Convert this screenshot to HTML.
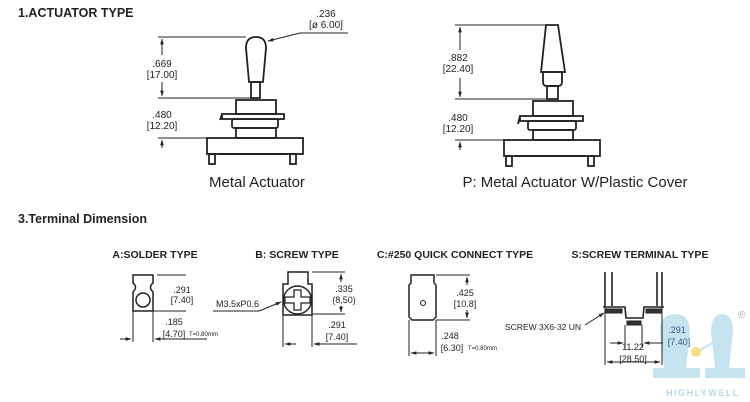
<!DOCTYPE html>
<html><head><meta charset="utf-8"><style>
body{margin:0;background:#fff}
svg{display:block}
text{font-family:"Liberation Sans",Arial,sans-serif;fill:#222}
.d{font-size:10px}
.h{font-weight:bold}
</style></head><body>
<svg width="750" height="402" viewBox="0 0 750 402" xmlns="http://www.w3.org/2000/svg">
<defs>
<marker id="a" viewBox="0 0 10 10" refX="9" refY="5" markerWidth="6" markerHeight="6" orient="auto-start-reverse"><path d="M0,2 L10,5 L0,8z" fill="#222"/></marker>
</defs>
<text x="18" y="17" class="h" font-size="12.5">1.ACTUATOR TYPE</text>
<text x="18" y="223" class="h" font-size="12.5">3.Terminal Dimension</text>

<!-- logo watermark -->
<g fill="#c6e3f0">
<path d="M660,332 Q660,314 675,314 Q690,314 690,332 L686,368 L700,368 L700,378 L653,378 L653,368 L664,368 Z"/>
<path d="M711,332 Q711,314 722,314 Q733,314 733,332 L729,368 L745,368 L745,378 L705,378 L705,368 L715,368 Z"/>
</g>
<line x1="696" y1="352" x2="718" y2="340" stroke="#c6e3f0" stroke-width="2"/>
<circle cx="696" cy="352" r="5" fill="#f7e08a"/>
<text x="703" y="396" font-size="9" font-weight="bold" text-anchor="middle" letter-spacing="1.5" style="fill:#b8d8e6">HIGHLYWELL</text>
<text x="738" y="318" font-size="10" style="fill:#aaa">®</text>

<g stroke="#222" fill="none" stroke-width="1">
<!-- left actuator -->
<line x1="158" y1="37" x2="246" y2="37"/>
<line x1="158" y1="98" x2="250" y2="98"/>
<line x1="162" y1="55" x2="162" y2="39" marker-end="url(#a)"/>
<line x1="162" y1="82" x2="162" y2="96" marker-end="url(#a)"/>
<line x1="158" y1="138" x2="210" y2="138"/>
<line x1="162" y1="148" x2="162" y2="140" marker-end="url(#a)"/>
<g stroke-width="1.8">
<path d="M246,48 Q246,37 256,37 Q266,37 266,48 L263,82 L249,82 Z"/>
<rect x="251" y="82" width="9" height="16"/>
<rect x="236" y="100" width="40" height="14"/>
<rect x="222" y="114" width="62" height="5"/>
<path d="M222,114 L220,120"/>
<rect x="232" y="119" width="46" height="9" rx="2"/>
<rect x="236" y="128" width="40" height="10"/>
<rect x="207" y="138" width="96" height="16"/>
<rect x="209" y="154" width="6" height="10"/>
<rect x="290" y="154" width="6" height="10"/>
</g>
<line x1="218" y1="154" x2="287" y2="154" stroke-width="2"/>
<line x1="300" y1="33" x2="348" y2="33"/>
<line x1="300" y1="33" x2="268" y2="41" marker-end="url(#a)"/>
<!-- right actuator -->
<line x1="455" y1="25" x2="546" y2="25"/>
<line x1="455" y1="99" x2="546" y2="99"/>
<line x1="460" y1="50" x2="460" y2="27" marker-end="url(#a)"/>
<line x1="460" y1="78" x2="460" y2="97" marker-end="url(#a)"/>
<line x1="455" y1="140" x2="510" y2="140"/>
<line x1="460" y1="150" x2="460" y2="142" marker-end="url(#a)"/>
<g stroke-width="1.8">
<path d="M546,25 L558,25 L565,72 L541,72 Z"/>
<path d="M543,72 L562,72 L562,82 Q562,86 558,86 L547,86 Q543,86 543,82 Z"/>
<rect x="547" y="86" width="11" height="13"/>
<rect x="533" y="101" width="40" height="15"/>
<rect x="520" y="116" width="63" height="5"/>
<path d="M520,116 L518,124"/>
<rect x="528" y="121" width="48" height="9" rx="2"/>
<rect x="533" y="130" width="40" height="10"/>
<rect x="504" y="140" width="96" height="16"/>
<rect x="506" y="156" width="6" height="10"/>
<rect x="588" y="156" width="6" height="10"/>
</g>
<line x1="515" y1="156" x2="585" y2="156" stroke-width="2"/>

<!-- solder -->
<path d="M133,275 L153,275 L153,283 Q148,287 153,292 L153,311 L133,311 L133,292 Q138,287 133,283 Z" stroke-width="1.5"/>
<circle cx="143" cy="300" r="7" stroke-width="1.5"/>
<line x1="157" y1="275" x2="186" y2="275"/>
<line x1="153" y1="311" x2="186" y2="311"/>
<line x1="133" y1="311" x2="133" y2="342"/>
<line x1="153" y1="311" x2="153" y2="342"/>
<line x1="120" y1="339" x2="131" y2="339" marker-end="url(#a)"/>
<line x1="207" y1="339" x2="155" y2="339" marker-end="url(#a)"/>
<!-- screw -->
<path d="M288,272 L308,272 L308,284 L312,284 L312,315 L283,315 L283,284 L288,284 Z" stroke-width="1.5"/>
<circle cx="297.5" cy="300" r="14" stroke-width="1.5"/>
<path d="M285,297 L294,297 L294,290 L301,290 L301,297 L310,297 L310,303 L301,303 L301,310 L294,310 L294,303 L285,303 Z" stroke-width="1.3"/>
<line x1="312" y1="272" x2="345" y2="272"/>
<line x1="312" y1="314" x2="345" y2="314"/>
<line x1="341" y1="282" x2="341" y2="274" marker-end="url(#a)"/>
<line x1="341" y1="306" x2="341" y2="312" marker-end="url(#a)"/>
<line x1="283" y1="315" x2="283" y2="347"/>
<line x1="312" y1="315" x2="312" y2="347"/>
<line x1="296" y1="344" x2="285" y2="344" marker-end="url(#a)"/>
<line x1="357" y1="344" x2="314" y2="344" marker-end="url(#a)"/>
<line x1="213" y1="311" x2="259" y2="311"/>
<line x1="259" y1="311" x2="281" y2="302" marker-end="url(#a)"/>
<!-- quick connect -->
<path d="M411,275 L434,275 L434,283 L436,285 L436,317 L433,320 L412,320 L409,317 L409,285 L411,283 Z" stroke-width="1.5"/>
<circle cx="423" cy="303" r="2.5" stroke-width="1.1"/>
<line x1="436" y1="275" x2="470" y2="275"/>
<line x1="436" y1="320" x2="470" y2="320"/>
<line x1="467" y1="285" x2="467" y2="277" marker-end="url(#a)"/>
<line x1="467" y1="310" x2="467" y2="318" marker-end="url(#a)"/>
<line x1="409" y1="320" x2="409" y2="356"/>
<line x1="436" y1="320" x2="436" y2="356"/>
<line x1="422" y1="353" x2="411" y2="353" marker-end="url(#a)"/>
<line x1="422" y1="353" x2="434" y2="353" marker-end="url(#a)"/>
<!-- screw terminal -->
<g stroke-width="1.6">
<line x1="605" y1="272" x2="605" y2="306"/><line x1="612" y1="272" x2="612" y2="306"/>
<line x1="657" y1="272" x2="657" y2="306"/><line x1="662" y1="272" x2="662" y2="306"/>
<path d="M603,307 L625,307 L626,318 L643,318 L644,307 L664,307"/>
</g>
<rect x="606" y="309" width="16" height="4" fill="#333"/>
<rect x="646" y="309" width="16" height="4" fill="#333"/>
<rect x="627" y="321" width="14" height="4" fill="#333"/>
<line x1="605" y1="306" x2="605" y2="365"/>
<line x1="662" y1="306" x2="662" y2="365"/>
<line x1="625" y1="325" x2="625" y2="348"/>
<line x1="642" y1="325" x2="642" y2="348"/>
<line x1="610" y1="343" x2="623" y2="343" marker-end="url(#a)"/>
<line x1="663" y1="343" x2="644" y2="343" marker-end="url(#a)"/>
<line x1="633" y1="362" x2="607" y2="362" marker-end="url(#a)"/>
<line x1="633" y1="362" x2="660" y2="362" marker-end="url(#a)"/>
<line x1="585" y1="325" x2="604" y2="313" marker-end="url(#a)"/>
</g>

<!-- text -->
<text x="326" y="17" class="d" text-anchor="middle">.236</text>
<text x="326" y="28" class="d" text-anchor="middle">[ø 6.00]</text>
<text x="162" y="67" class="d" text-anchor="middle">.669</text>
<text x="162" y="78" class="d" text-anchor="middle">[17.00]</text>
<text x="162" y="118" class="d" text-anchor="middle">.480</text>
<text x="162" y="129" class="d" text-anchor="middle">[12.20]</text>
<text x="257" y="187" font-size="15" text-anchor="middle">Metal Actuator</text>
<text x="458" y="61" class="d" text-anchor="middle">.882</text>
<text x="458" y="72" class="d" text-anchor="middle">[22.40]</text>
<text x="458" y="121" class="d" text-anchor="middle">.480</text>
<text x="458" y="132" class="d" text-anchor="middle">[12.20]</text>
<text x="575" y="187" font-size="15" text-anchor="middle">P: Metal Actuator  W/Plastic Cover</text>

<text x="155" y="258" class="h" font-size="10.5" text-anchor="middle">A:SOLDER TYPE</text>
<text x="297" y="258" class="h" font-size="10.5" text-anchor="middle">B: SCREW TYPE</text>
<text x="455" y="258" class="h" font-size="10.5" text-anchor="middle">C:#250 QUICK CONNECT TYPE</text>
<text x="640" y="258" class="h" font-size="10.5" text-anchor="middle">S:SCREW TERMINAL TYPE</text>

<text x="182" y="293" font-size="9" text-anchor="middle">.291</text>
<text x="182" y="303" font-size="9" text-anchor="middle">[7.40]</text>
<text x="174" y="325" font-size="9" text-anchor="middle">.185</text>
<text x="174" y="337" font-size="9" text-anchor="middle">[4.70]</text>
<text x="189" y="336" font-size="6">T=0.80mm</text>
<text x="216" y="307" font-size="9">M3.5xP0.6</text>
<text x="344" y="292" font-size="9" text-anchor="middle">.335</text>
<text x="344" y="303" font-size="9" text-anchor="middle">(8,50)</text>
<text x="337" y="328" font-size="9" text-anchor="middle">.291</text>
<text x="337" y="340" font-size="9" text-anchor="middle">[7.40]</text>
<text x="465" y="296" font-size="9" text-anchor="middle">.425</text>
<text x="465" y="307" font-size="9" text-anchor="middle">[10.8]</text>
<text x="450" y="339" font-size="9" text-anchor="middle">.248</text>
<text x="452" y="351" font-size="9" text-anchor="middle">[6.30]</text>
<text x="468" y="350" font-size="6">T=0.80mm</text>
<text x="505" y="330" font-size="8.5">SCREW 3X6-32 UN</text>
<text x="677" y="333" font-size="9" text-anchor="middle" style="fill:#2a5d84">.291</text>
<text x="679" y="345" font-size="9" text-anchor="middle" style="fill:#2a5d84">[7.40]</text>
<text x="633" y="350" font-size="9" text-anchor="middle">11.22</text>
<text x="633" y="362" font-size="9" text-anchor="middle">[28.50]</text>
</svg>
</body></html>
